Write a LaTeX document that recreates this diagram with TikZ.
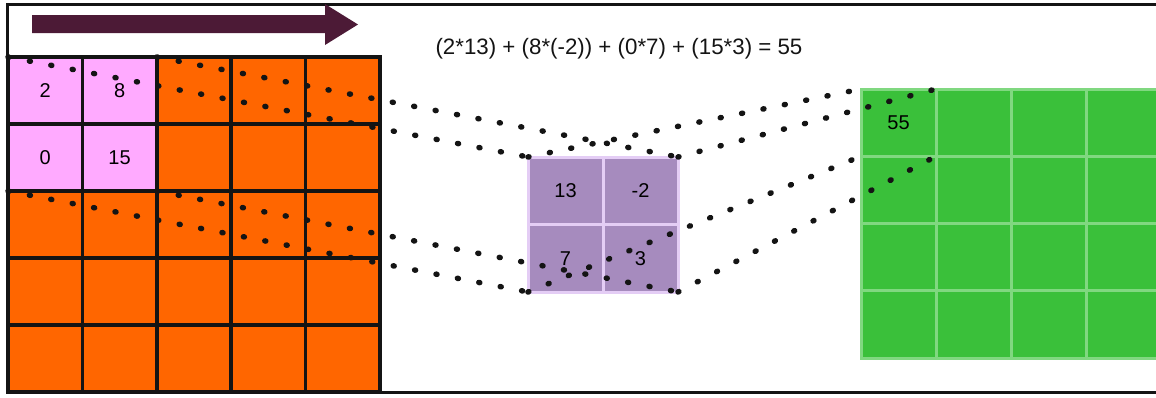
\documentclass[tikz,border=0pt]{standalone}
\usepackage{fontspec}
\setmainfont{Liberation Sans}
\usetikzlibrary{arrows.meta,positioning,calc}
\definecolor{plum}{RGB}{76,26,54}
\definecolor{tangerine}{RGB}{255,102,0}
\definecolor{blush}{RGB}{255,170,255}
\definecolor{mauve}{RGB}{166,139,190}
\definecolor{lilac}{RGB}{228,205,245}
\definecolor{lime}{RGB}{58,192,58}
\definecolor{mint}{RGB}{128,216,128}
\definecolor{ink}{RGB}{20,20,20}
\tikzset{
  cell/.style={draw=#1,line width=3pt,outer sep=0pt,inner sep=0pt,
    font=\fontsize{20}{22}\selectfont},
  incell/.style={cell=ink,line width=3.5pt,fill=#1,minimum width=74.4pt,minimum height=67pt},
  incell/.default=tangerine,
  kcell/.style={cell=lilac,fill=mauve,minimum width=75pt,minimum height=67.5pt},
  ocell/.style={cell=mint,fill=lime,minimum width=75pt,minimum height=67.25pt},
  dots/.style={draw=ink,line width=5.5pt,line cap=round,dash pattern=on 1pt off 20.8pt},
  sumtext/.style={font=\fontsize{22.3}{26}\selectfont,text=ink},
}
\begin{document}
\begin{tikzpicture}[x=1pt,y=-1pt]
  \useasboundingbox (0,0) rectangle (1156,397);
  \draw[ink,line width=3pt] (1156,4.5) -- (7.5,4.5) -- (7.5,392) -- (1156,392);
  % sliding direction
  \fill[plum] (32,15) -- (325,15) -- (325,4) -- (358,24.5) -- (325,45) -- (325,33) -- (32,33) -- cycle;
  \node[sumtext] (sum) at (619,49) {(2*13) + (8*(-2)) + (0*7) + (15*3) = 55};
  % input
  \foreach \r in {1,...,5}
    \foreach \c in {1,...,5}
      \node[incell] (in-\r-\c) at ({8+74.4*(\c-0.5)},{57+67*(\r-0.5)}) {};
  \foreach \r/\c/\v in {1/1/2,1/2/8,2/1/0,2/2/15}
    \node[incell=blush] (in-\r-\c) at ({8+74.4*(\c-0.5)},{57+67*(\r-0.5)}) {\v};
  % kernel
  \foreach \r/\c/\v in {1/1/13,1/2/-2,2/1/7,2/2/3}
    \node[kcell] (ker-\r-\c) at ({528+75*(\c-0.5)},{157+67.5*(\r-0.5)}) {\v};
  % feature map
  \foreach \r in {1,...,4}
    \foreach \c in {1,...,4}
      \node[ocell] (out-\r-\c) at ({861+75*(\c-0.5)},{89+67.25*(\r-0.5)}) {};
  \node[font=\fontsize{20}{22}\selectfont] (res) at (out-1-1) {55};
  \foreach \a/\b in {in-1-1.north west/ker-1-1.north west,in-1-3.north west/ker-1-2.north east,
      ker-1-1.north west/out-1-1.north west,ker-1-2.north east/out-1-1.north east,
      in-3-1.north west/ker-2-1.south west,in-3-3.north west/ker-2-2.south east,
      ker-2-1.south west/out-2-1.north west,ker-2-2.south east/out-2-1.north east}
    \draw[dots] (\a) -- (\b);
\end{tikzpicture}
\end{document}
